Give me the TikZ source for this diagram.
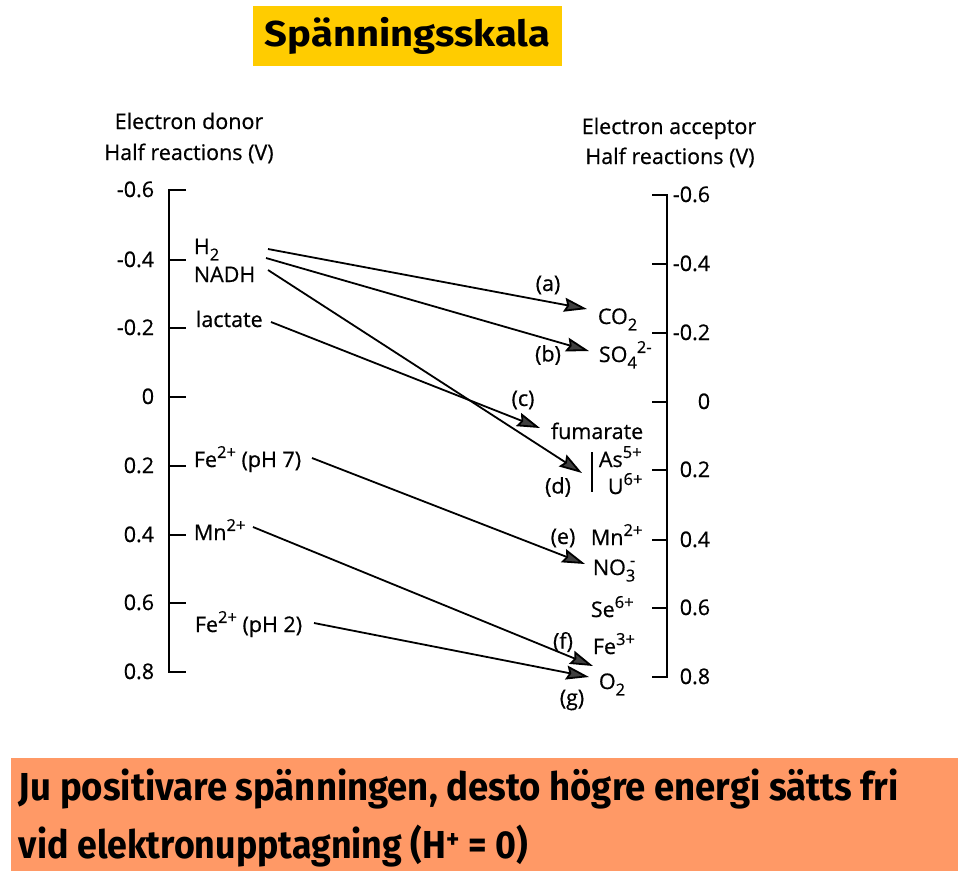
\documentclass[tikz,border=0pt]{standalone}
\usepackage{fontspec}
\usepackage{graphicx}
\setmainfont{Open Sans}[FakeBold=0.6]
\newfontfamily\notefont{Fira Sans}
\usetikzlibrary{arrows.meta}
\tikzset{
	half/.style    = {inner sep = 0pt, anchor = base west,
		font = \fontsize{21.5}{24}\selectfont},
	head/.style    = {inner sep = 0pt, anchor = base,
		font = \fontsize{21.5}{24}\selectfont},
	volt/.style    = {inner sep = 0pt, anchor = base east,
		font = \fontsize{21.5}{24}\selectfont},
	letter/.style  = {inner sep = 0pt, font = \fontsize{21.5}{24}\selectfont}, % (a)...(g)
	banner/.style  = {inner sep = 0pt, anchor = base west,
		font = \notefont\bfseries\fontsize{39}{44}\selectfont}
}
\newcommand{\lowr}[1]{\raisebox{-0.3em}{\fontsize{16.5}{17}\selectfont #1}}
\newcommand{\highr}[1]{\raisebox{0.42em}{\fontsize{16.5}{17}\selectfont #1}}
\definecolor{gold}{RGB}{255,204,0}
\definecolor{salmon}{RGB}{255,153,102}

\begin{document}
\begin{tikzpicture}[x = 1pt, y = -1pt, line width = 1.8pt,
	>={Stealth[length = 23pt, width = 14pt, inset = 3pt, fill = black!75]}]
		\useasboundingbox (0,0) rectangle (960,876);
		
		% title and note
		\draw
		node at (407.5,36)[fill = gold, minimum width = 309pt, minimum height = 60pt,
			font = \notefont\bfseries\fontsize{36}{40}\selectfont] (title)
			{\resizebox{285pt}{\height}{Spänningsskala}}
		node at (10,757)[fill = salmon, anchor = north west, inner sep = 0pt,
			minimum width = 947pt, minimum height = 113pt] (note) {}
		node at (18,800)[banner] (note1)
			{\resizebox{880pt}{\height}{Ju positivare spänningen, desto högre energi sätts fri}}
		node at (18,858)[banner] (note2)
			{\resizebox{509pt}{\height}{vid elektronupptagning (H\textsuperscript{+} = 0)}};
		
		% the two scales
		\draw node at (189,129)[head] (don1) {Electron donor}
		node at (189,160)[head] (don2) {Half reactions (V)}
		node at (669,134)[head] (acc1) {Electron acceptor}
		node at (670,164)[head] (acc2) {Half reactions (V)};
		\draw (186,190) -- (169,190) -- (169,672) -- (186,672);
		\draw (652,195) -- (667,195) -- (667,677) -- (652,677);
		\foreach \v/\yl/\yr [count = \i] in {-0.6/190/195, -0.4/260/264, -0.2/328/333,
			0/397/402, 0.2/466/470, 0.4/535/540, 0.6/603/608, 0.8/672/677}{
			\draw (169,\yl) -- (186,\yl);
			\draw (652,\yr) -- (667,\yr);
			\node[volt] (vl\i) at (155,\yl+7) {\v};
			\node[volt] (vr\i) at (711,\yr+7) {\v};
		}
		
		% electron donors
		\draw
		node at (193,254)[half] (h2) {H\lowr{2}}
		node at (193,282)[half] (nadh) {NADH}
		node at (195,327)[half] (lactate) {lactate}
		node at (193,467)[half] (feseven) {Fe\highr{2+} (pH 7)}
		node at (193,540)[half] (mnleft) {Mn\highr{2+}}
		node at (194,632)[half] (fetwo) {Fe\highr{2+} (pH 2)};
		
		% electron acceptors
		\draw
		node at (597,324)[half] (co2) {CO\lowr{2}}
		node at (598,362)[half] (so4) {SO\lowr{4}\highr{2-}}
		node at (550,439)[half] (fumarate) {fumarate}
		node at (598,467)[half] (as5) {As\highr{5+}}
		node at (607,494)[half] (u6) {U\highr{6+}}
		node at (590,545)[half] (mnright) {Mn\highr{2+}}
		node at (592,575)[half] (no3) {NO\lowr{3}\llap{\highr{-}}}
		node at (590,617)[half] (se6) {Se\highr{6+}}
		node at (592,654)[half] (fe3) {Fe\highr{3+}}
		node at (598,689)[half] (o2) {O\lowr{2}};
		\draw ([shift={(-6,-15)}]as5.base west) -- ([shift={(-6,-2)}]u6.base west -| as5.base west);
		
		\draw
		node at (548,285)[letter] (la) {(a)}
		node at (548,355)[letter] (lb) {(b)}
		node at (523,400)[letter] (lc) {(c)}
		node at (558,487)[letter] (ld) {(d)}
		node at (563,538)[letter] (le) {(e)}
		node at (563,642)[letter] (lf) {(f)}
		node at (572,700)[letter] (lg) {(g)};
		
		\draw[->] ([shift={(75,-5)}]h2.base west) -- ([shift={(-10,-15)}]co2.base west);
		\draw[->] ([shift={(73,-24)}]nadh.base west) -- ([shift={(-9,-11)}]so4.base west);
		\draw[->] ([shift={(76,-5)}]lactate.base west) -- ([shift={(-10,-11)}]fumarate.base west);
		\draw[->] ([shift={(75,-12)}]nadh.base west) -- ([shift={(-16,6)}]as5.base west);
		\draw[->] ([shift={(119,-9)}]feseven.base west) -- ([shift={(-7,-11)}]no3.base west);
		\draw[->] ([shift={(60,-13)}]mnleft.base west) -- ([shift={(-5,-23)}]o2.base west);
		\draw[->] ([shift={(120,-9)}]fetwo.base west) -- ([shift={(-9,-12)}]o2.base west);
		
		\end{tikzpicture}
\end{document}
